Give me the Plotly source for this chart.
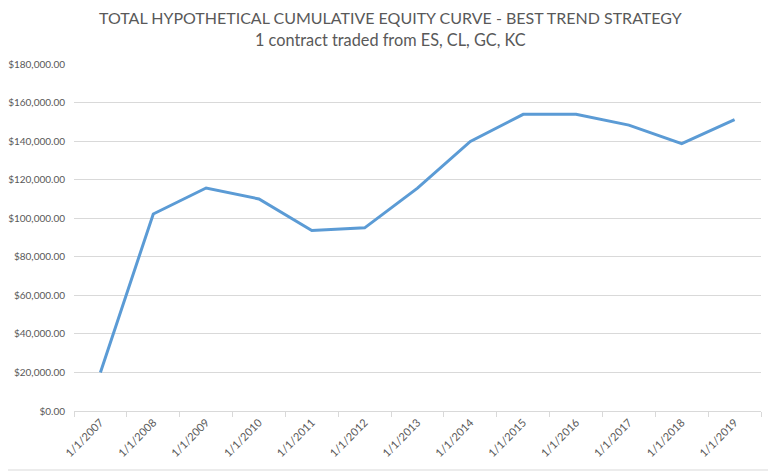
import plotly.graph_objects as go

# equity curve values
dates = ["1/1/2007", "1/1/2008", "1/1/2009", "1/1/2010", "1/1/2011", "1/1/2012", "1/1/2013",
         "1/1/2014", "1/1/2015", "1/1/2016", "1/1/2017", "1/1/2018", "1/1/2019"]
equity = [20000, 102200, 115700, 110000, 93600, 95000, 115600,
          139800, 153900, 153900, 148300, 138700, 151100]

title_1 = "TOTAL HYPOTHETICAL CUMULATIVE EQUITY CURVE - BEST TREND STRATEGY"
title_2 = "1 contract traded from ES, CL, GC, KC"

grid = "#d9d9d9"
txt = "#595959"

fig = go.Figure()
fig.add_trace(go.Scatter(
    x=dates,
    y=equity,
    mode="lines",
    line=dict(color="#5b9bd5", width=3),
    hoverinfo="x+y"
))

# page body adds an 8px margin, so the figure is 8px smaller and shifted
fig.update_layout(
    width=768,
    height=463,
    margin=dict(l=66, r=15, t=56, b=60),
    paper_bgcolor="white",
    plot_bgcolor="white",
    showlegend=False,
    font=dict(family="Lato, sans-serif", size=11, color=txt),
    xaxis=dict(
        type="category",
        range=[-0.5, 12.5],
        tickangle=-45,
        tickson="boundaries",
        ticks="outside",
        ticklen=5,
        tickcolor=grid,
        showline=True,
        linecolor=grid,
        linewidth=1,
        showgrid=False,
        automargin=False,
        tickfont=dict(size=11, color=txt)
    ),
    yaxis=dict(
        range=[0, 180000],
        dtick=20000,
        tickprefix="$",
        tickformat=",.2f",
        showgrid=True,
        gridcolor=grid,
        gridwidth=1,
        zeroline=False,
        ticks="",
        ticklabelstandoff=8,
        automargin=False,
        tickfont=dict(size=10, color=txt)
    ),
    annotations=[
        dict(text=title_1, xref="paper", yref="paper", x=0.461, y=1 + 46 / 347,
             xanchor="center", yanchor="middle", showarrow=False,
             font=dict(family="Lato, sans-serif", size=16, color=txt)),
        dict(text=title_2, xref="paper", yref="paper", x=0.461, y=1 + 25 / 347,
             xanchor="center", yanchor="middle", showarrow=False,
             font=dict(family="Lato, sans-serif", size=16.3, color=txt)),
    ],
    shapes=[dict(type="line", xref="paper", yref="paper",
                 x0=-66 / 687, x1=1 + 15 / 687, y0=-59 / 347, y1=-59 / 347,
                 line=dict(color=grid, width=1))]
)

fig.write_html("out.html")
